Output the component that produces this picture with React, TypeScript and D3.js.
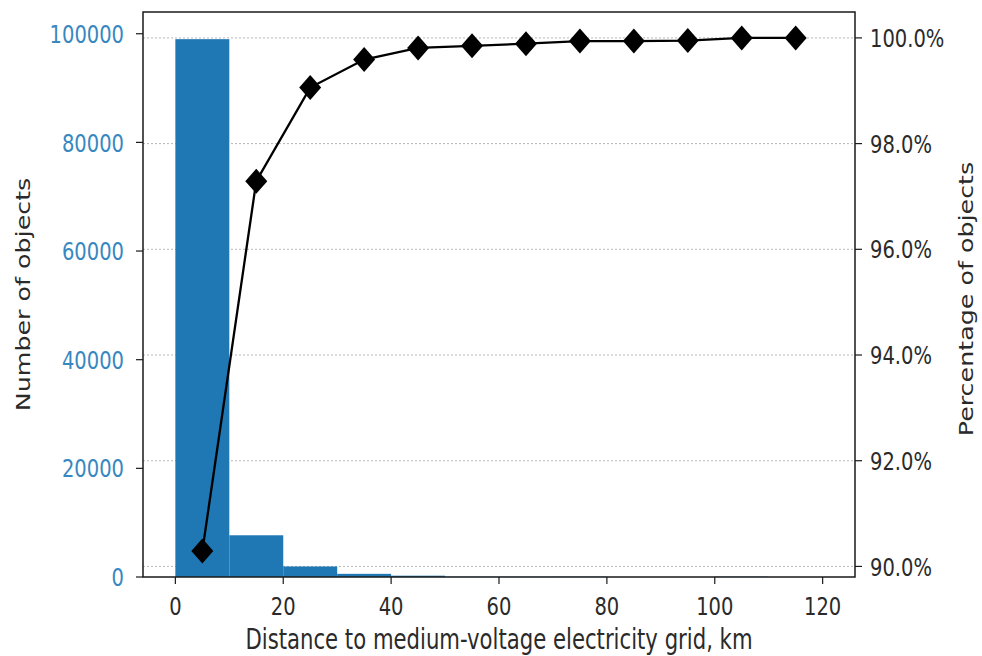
import React from 'react';
import * as d3 from 'd3';

// histogram bins (km) and counts
const binStarts = [0, 10, 20, 30, 40, 50, 60, 70, 80, 90, 100, 110];
const binWidth = 10;
const counts = [99000, 7680, 1940, 580, 240, 45, 45, 55, 5, 10, 55, 5];

// cumulative share, plotted at bin centres
const midpoints = [5, 15, 25, 35, 45, 55, 65, 75, 85, 95, 105, 115];
const cumulativePct = [90.29, 97.29, 99.06, 99.59, 99.81, 99.85, 99.89, 99.94, 99.94, 99.95, 100.0, 100.0];

const xTicks = [0, 20, 40, 60, 80, 100, 120];
const countTicks = [0, 20000, 40000, 60000, 80000, 100000];
const pctTicks = [90, 92, 94, 96, 98, 100];

const W = 982;
const H = 656;
const left = 143, right = 855, top = 12, bottom = 577;
const SY = 1.3; // the reference is stretched vertically
const FS = 19.5;
const FONT = 'DejaVu Sans, sans-serif';
const BLUE = '#1f77b4';
const TICKBLUE = '#3787c1';
const TEXT = '#2a2a2a';

function Label({ x, y, anchor = 'middle', fill = TEXT, rotate = 0, size = FS, children }: any) {
  return (
    <text
      transform={`translate(${x},${y}) scale(1,${SY})${rotate ? ` rotate(${rotate})` : ''}`}
      textAnchor={anchor}
      dy="0.36em"
      fontFamily={FONT}
      fontSize={size}
      fill={fill}
    >
      {children}
    </text>
  );
}

export default function App() {
  const x = d3.scaleLinear().domain([-6, 126]).range([left, right]);
  const yCount = d3.scaleLinear().domain([0, 104000]).range([bottom, top]);
  const yPct = d3.scaleLinear().domain([89.8, 100.49]).range([bottom, top]);

  const line = d3
    .line<number>()
    .x((_, i) => x(midpoints[i]))
    .y((d) => yPct(d));

  const diamond = (cx: number, cy: number) =>
    `M${cx},${cy - 12.5}L${cx + 11},${cy}L${cx},${cy + 12.5}L${cx - 11},${cy}Z`;

  return (
    <svg width={W} height={H} style={{ position: 'absolute', left: 0, top: 0, background: '#fff' }}>
      {/* grid from right axis */}
      {pctTicks.map((t) => (
        <line
          key={'g' + t}
          x1={left}
          x2={right}
          y1={yPct(t)}
          y2={yPct(t)}
          stroke="#b8b8b8"
          strokeWidth={1}
          strokeDasharray="2,2"
        />
      ))}

      {/* histogram */}
      {binStarts.map((b, i) => (
        <rect
          key={'b' + b}
          x={x(b)}
          width={x(b + binWidth) - x(b)}
          y={yCount(counts[i])}
          height={yCount(0) - yCount(counts[i])}
          fill={BLUE}
        />
      ))}

      {/* cumulative line */}
      <path d={line(cumulativePct) || ''} fill="none" stroke="#000" strokeWidth={2.3} />
      {cumulativePct.map((p, i) => (
        <path key={'m' + i} d={diamond(x(midpoints[i]), yPct(p))} fill="#000" />
      ))}

      {/* frame */}
      <rect x={left} y={top} width={right - left} height={bottom - top} fill="none" stroke="#1a1a1a" strokeWidth={1.5} />

      {/* x axis */}
      {xTicks.map((t) => (
        <g key={'x' + t}>
          <line x1={x(t)} x2={x(t)} y1={bottom} y2={bottom + 7} stroke="#1a1a1a" strokeWidth={1.2} />
          <Label x={x(t)} y={606}>{t}</Label>
        </g>
      ))}
      <Label x={(left + right) / 2} y={639} size={21.2}>Distance to medium-voltage electricity grid, km</Label>

      {/* left axis */}
      {countTicks.map((t) => (
        <g key={'c' + t}>
          <line x1={left - 7} x2={left} y1={yCount(t)} y2={yCount(t)} stroke="#1a1a1a" strokeWidth={1.2} />
          <Label x={left - 19} y={yCount(t)} anchor="end" fill={TICKBLUE}>{t}</Label>
        </g>
      ))}
      <Label x={23} y={(top + bottom) / 2} rotate={-90}>Number of objects</Label>

      {/* right axis */}
      {pctTicks.map((t) => (
        <g key={'p' + t}>
          <line x1={right} x2={right + 7} y1={yPct(t)} y2={yPct(t)} stroke="#1a1a1a" strokeWidth={1.2} />
          <Label x={right + 15} y={yPct(t)} anchor="start">{t.toFixed(1) + '%'}</Label>
        </g>
      ))}
      <Label x={966} y={299} rotate={-90}>Percentage of objects</Label>
    </svg>
  );
}
